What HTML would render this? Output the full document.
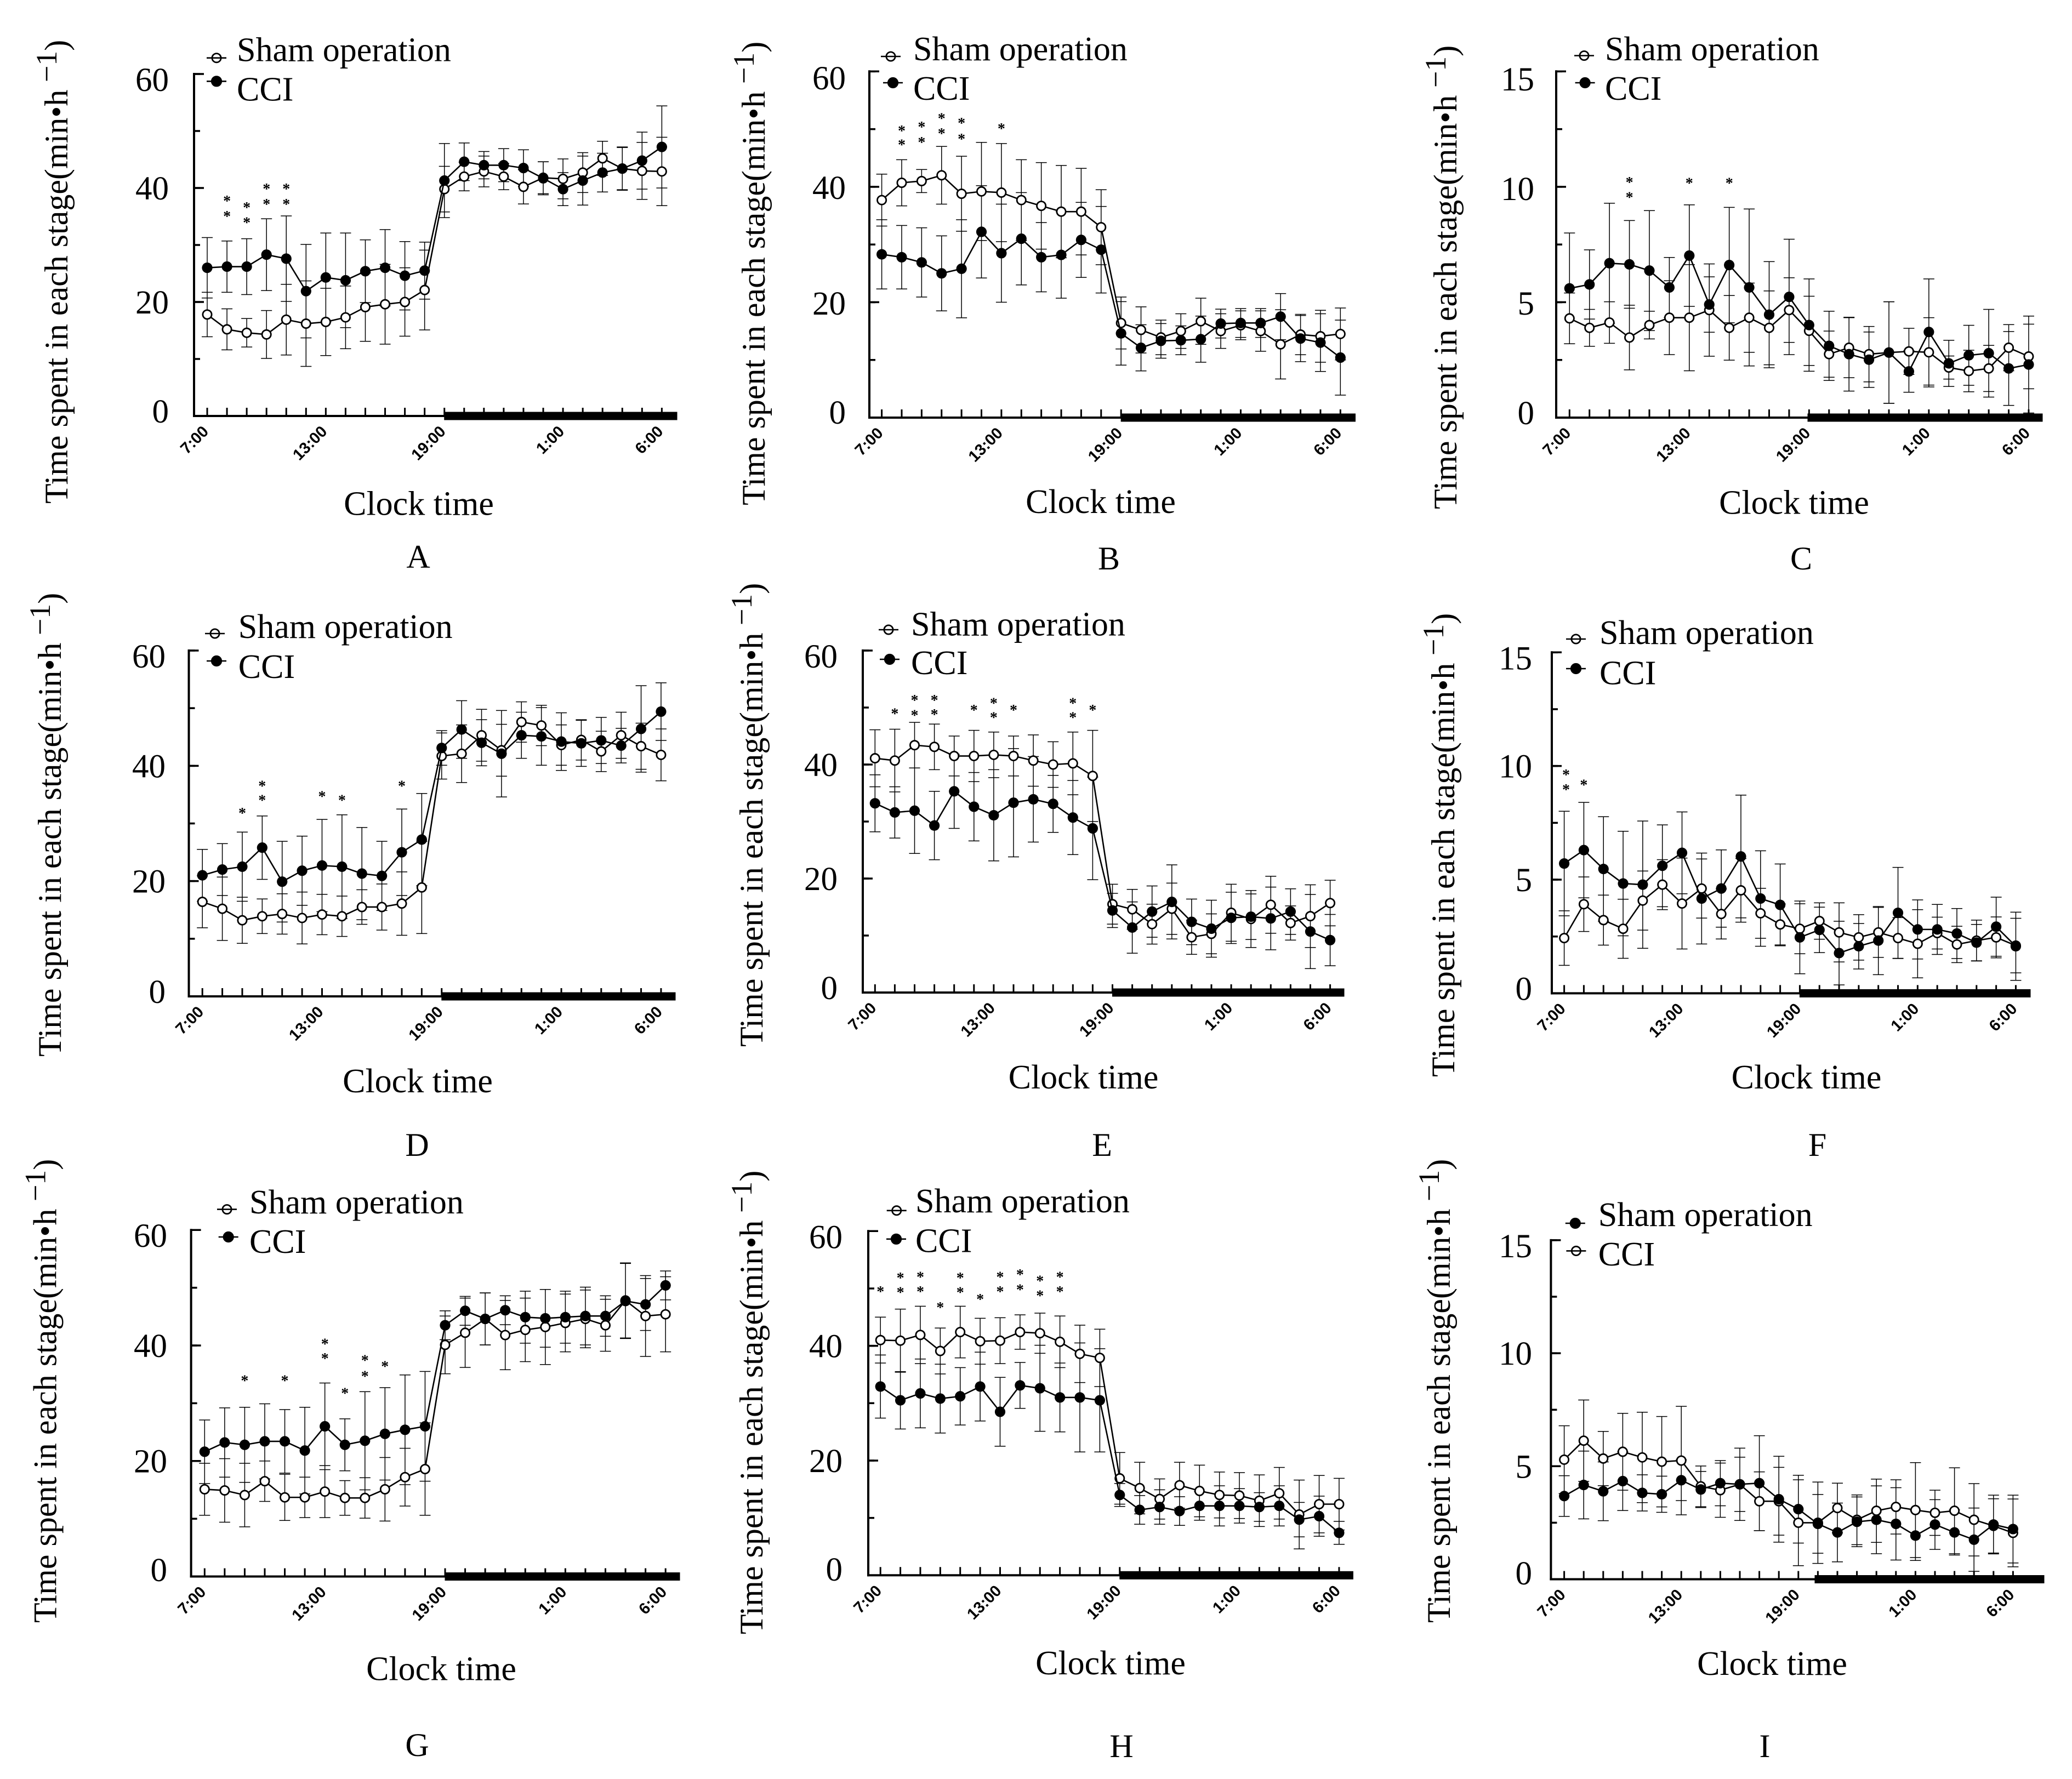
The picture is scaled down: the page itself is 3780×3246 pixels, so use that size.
<!DOCTYPE html>
<html><head><meta charset="utf-8">
<style>
html,body{margin:0;padding:0;background:#fff}
svg{display:block}
.ax{stroke:#000;stroke-width:4}
.d{vector-effect:non-scaling-stroke;fill:none;stroke:#000}
.eb{stroke-width:1.5}
.ln{stroke-width:2.6;stroke-linejoin:round}
.lg{stroke:#000;stroke-width:2.6}
.t{font-family:"Liberation Serif","Times New Roman",serif;fill:#000;stroke:none}
.yl{font-size:61px;text-anchor:end}
.tl{font-family:"Liberation Sans",Arial,sans-serif;font-weight:bold;font-size:29px;text-anchor:end;fill:#000;stroke:none}
.st{font-size:28px;font-weight:bold;text-anchor:middle}
.lt{font-size:62px}
.ct{font-size:62px;text-anchor:middle}
.pl{font-size:60px;text-anchor:middle}
.yt{font-size:60px}
</style></head><body>
<svg width="3780" height="3246" viewBox="0 0 3780 3246">
<rect x="0" y="0" width="3780" height="3246" fill="#fff"/>
<defs>
<marker id="cA" markerUnits="userSpaceOnUse" overflow="visible"><rect transform="scale(.027732,.096154)" x="-10" y="-.75" width="20" height="1.5"/></marker>
<marker id="fA" markerUnits="userSpaceOnUse" overflow="visible"><circle transform="scale(.027732,.096154)" r="9.6"/></marker>
<marker id="oA" markerUnits="userSpaceOnUse" overflow="visible"><circle transform="scale(.027732,.096154)" r="8.1" fill="#fff" stroke="#000" stroke-width="2.8"/></marker>
<marker id="cB" markerUnits="userSpaceOnUse" overflow="visible"><rect transform="scale(.027488,.094985)" x="-10" y="-.75" width="20" height="1.5"/></marker>
<marker id="fB" markerUnits="userSpaceOnUse" overflow="visible"><circle transform="scale(.027488,.094985)" r="9.6"/></marker>
<marker id="oB" markerUnits="userSpaceOnUse" overflow="visible"><circle transform="scale(.027488,.094985)" r="8.1" fill="#fff" stroke="#000" stroke-width="2.8"/></marker>
<marker id="cC" markerUnits="userSpaceOnUse" overflow="visible"><rect transform="scale(.027457,.023747)" x="-10" y="-.75" width="20" height="1.5"/></marker>
<marker id="fC" markerUnits="userSpaceOnUse" overflow="visible"><circle transform="scale(.027457,.023747)" r="9.6"/></marker>
<marker id="oC" markerUnits="userSpaceOnUse" overflow="visible"><circle transform="scale(.027457,.023747)" r="8.1" fill="#fff" stroke="#000" stroke-width="2.8"/></marker>
<marker id="cD" markerUnits="userSpaceOnUse" overflow="visible"><rect transform="scale(.027488,.095084)" x="-10" y="-.75" width="20" height="1.5"/></marker>
<marker id="fD" markerUnits="userSpaceOnUse" overflow="visible"><circle transform="scale(.027488,.095084)" r="9.6"/></marker>
<marker id="oD" markerUnits="userSpaceOnUse" overflow="visible"><circle transform="scale(.027488,.095084)" r="8.1" fill="#fff" stroke="#000" stroke-width="2.8"/></marker>
<marker id="cE" markerUnits="userSpaceOnUse" overflow="visible"><rect transform="scale(.027701,.096154)" x="-10" y="-.75" width="20" height="1.5"/></marker>
<marker id="fE" markerUnits="userSpaceOnUse" overflow="visible"><circle transform="scale(.027701,.096154)" r="9.6"/></marker>
<marker id="oE" markerUnits="userSpaceOnUse" overflow="visible"><circle transform="scale(.027701,.096154)" r="8.1" fill="#fff" stroke="#000" stroke-width="2.8"/></marker>
<marker id="cF" markerUnits="userSpaceOnUse" overflow="visible"><rect transform="scale(.027917,.024114)" x="-10" y="-.75" width="20" height="1.5"/></marker>
<marker id="fF" markerUnits="userSpaceOnUse" overflow="visible"><circle transform="scale(.027917,.024114)" r="9.6"/></marker>
<marker id="oF" markerUnits="userSpaceOnUse" overflow="visible"><circle transform="scale(.027917,.024114)" r="8.1" fill="#fff" stroke="#000" stroke-width="2.8"/></marker>
<marker id="cG" markerUnits="userSpaceOnUse" overflow="visible"><rect transform="scale(.027352,.094895)" x="-10" y="-.75" width="20" height="1.5"/></marker>
<marker id="fG" markerUnits="userSpaceOnUse" overflow="visible"><circle transform="scale(.027352,.094895)" r="9.6"/></marker>
<marker id="oG" markerUnits="userSpaceOnUse" overflow="visible"><circle transform="scale(.027352,.094895)" r="8.1" fill="#fff" stroke="#000" stroke-width="2.8"/></marker>
<marker id="cH" markerUnits="userSpaceOnUse" overflow="visible"><rect transform="scale(.027488,.095538)" x="-10" y="-.75" width="20" height="1.5"/></marker>
<marker id="fH" markerUnits="userSpaceOnUse" overflow="visible"><circle transform="scale(.027488,.095538)" r="9.6"/></marker>
<marker id="oH" markerUnits="userSpaceOnUse" overflow="visible"><circle transform="scale(.027488,.095538)" r="8.1" fill="#fff" stroke="#000" stroke-width="2.8"/></marker>
<marker id="cI" markerUnits="userSpaceOnUse" overflow="visible"><rect transform="scale(.02809,.024248)" x="-10" y="-.75" width="20" height="1.5"/></marker>
<marker id="fI" markerUnits="userSpaceOnUse" overflow="visible"><circle transform="scale(.02809,.024248)" r="9.6"/></marker>
<marker id="oI" markerUnits="userSpaceOnUse" overflow="visible"><circle transform="scale(.02809,.024248)" r="8.1" fill="#fff" stroke="#000" stroke-width="2.8"/></marker>
</defs>

<g stroke="#000">
<!-- ===== A ===== -->
<line class="ax" x1="354" y1="761" x2="354" y2="133"/>
<line class="ax" x1="352" y1="759" x2="1235" y2="759"/>
<rect x="810.7" y="752" width="424.3" height="14"/>
<line x1="376.5" y1="751.5" x2="1209.4" y2="751.5" stroke-width="15" stroke-dasharray="3 33.06"/>
<line x1="363" y1="760.75" x2="363" y2="132" stroke-width="18" stroke-dasharray="3.5 204.5"/>
<line x1="359.5" y1="760.75" x2="359.5" y2="132" stroke-width="11" stroke-dasharray="3.5 100.5"/>
<g transform="translate(378,759) scale(36.06,-10.4)">
<path class="d eb" marker-start="url(#cA)" marker-mid="url(#cA)" marker-end="url(#cA)" d="M0,13.9V21.7M1,11.6V18.8M2,12.1V17.1M3,10.1V18.5M4,10.7V23.1M5,8.7V23.7M6,10.6V22.4M7,11.8V22.8M8,13.1V25.1M9,12.6V26.6M10,14V26M11,15.1V29.1M12,35.8V43.8M13,39.5V44.5M14,40.2V45.6M15,39.7V44.3M16,37.2V43.2M17,39V44.6M18,38.1V45.1M19,39.2V46.2M20,42.2V48.2M21,39.7V47.1M22,38V48M23,36.9V48.9M0,20.7V31.3M1,21.7V30.7M2,21.3V31.1M3,22V34.6M4,20.1V35.1M5,13.7V30.1M6,16.5V32.1M7,15.5V32.1M8,19.9V30.9M9,19.3V32.7M10,18.6V30.6M11,20.5V30.5M12,34.8V47.8M13,41.3V47.9M14,41.6V46.4M15,41.1V46.9M16,40.3V46.7M17,38.8V44.6M18,36.9V42.7M19,37V45.6M20,39.3V46.1M21,39.6V47.2M22,39.8V49.8M23,40V54.4"/>
<polyline class="d ln" marker-start="url(#oA)" marker-mid="url(#oA)" marker-end="url(#oA)" points="0,17.8 1,15.2 2,14.6 3,14.3 4,16.9 5,16.2 6,16.5 7,17.3 8,19.1 9,19.6 10,20 11,22.1 12,39.8 13,42 14,42.9 15,42 16,40.2 17,41.8 18,41.6 19,42.7 20,45.2 21,43.4 22,43 23,42.9"/>
<polyline class="d ln" marker-start="url(#fA)" marker-mid="url(#fA)" marker-end="url(#fA)" points="0,26 1,26.2 2,26.2 3,28.3 4,27.6 5,21.9 6,24.3 7,23.8 8,25.4 9,26 10,24.6 11,25.5 12,41.3 13,44.6 14,44 15,44 16,43.5 17,41.7 18,39.8 19,41.3 20,42.7 21,43.4 22,44.8 23,47.2"/>
</g>
<line class="lg" x1="377" y1="105.7" x2="413" y2="105.7"/><circle cx="395" cy="105.7" r="8.1" fill="none" stroke-width="2.8"/>
<line class="lg" x1="377" y1="148.3" x2="413" y2="148.3"/><circle cx="395" cy="148.3" r="9.6"/>

<!-- ===== B ===== -->
<line class="ax" x1="1586" y1="764" x2="1586" y2="128.3"/>
<line class="ax" x1="1584" y1="762" x2="2472.5" y2="762"/>
<rect x="2045.2" y="755" width="427.3" height="14"/>
<line x1="1607.1" y1="754.5" x2="2447.3" y2="754.5" stroke-width="15" stroke-dasharray="3 33.38"/>
<line x1="1595" y1="763.75" x2="1595" y2="127" stroke-width="18" stroke-dasharray="3.5 207.07"/>
<line x1="1591.5" y1="763.75" x2="1591.5" y2="127" stroke-width="11" stroke-dasharray="3.5 101.78"/>
<g transform="translate(1608.6,762) scale(36.38,-10.528)">
<path class="d eb" marker-start="url(#cB)" marker-mid="url(#cB)" marker-end="url(#cB)" d="M0,33.2V42.2M1,36.7V44.7M2,39V43M3,37V47M4,32.3V45.3M5,30.7V47.7M6,30.5V47.5M7,30.7V44.7M8,29.2V44.2M9,27.7V43.7M10,28.2V43.2M11,26.5V39.5M12,11.9V20.9M13,11.2V19.2M14,10.9V16.9M15,12V18M16,12.7V20.7M17,12V18M18,13.5V18.5M19,11.5V18.5M20,6.7V18.7M21,10.9V17.9M22,9.6V18.6M23,10V19M0,22.3V34.3M1,22.3V33.3M2,20.9V32.9M3,18.5V31.5M4,17.3V34.3M5,24.2V40.2M6,20V37M7,23V39M8,21.8V33.8M9,20.7V35.7M10,24.3V37.3M11,21.6V36.6M12,9.1V20.1M13,8.1V16.1M14,10.3V16.3M15,10.9V15.9M16,9.6V17.6M17,13.8V18.8M18,13.9V18.9M19,13.9V18.9M20,13.5V21.5M21,9.7V17.7M22,8V18M23,3.9V16.9"/>
<polyline class="d ln" marker-start="url(#oB)" marker-mid="url(#oB)" marker-end="url(#oB)" points="0,37.7 1,40.7 2,41 3,42 4,38.8 5,39.2 6,39 7,37.7 8,36.7 9,35.7 10,35.7 11,33 12,16.4 13,15.2 14,13.9 15,15 16,16.7 17,15 18,16 19,15 20,12.7 21,14.4 22,14.1 23,14.5"/>
<polyline class="d ln" marker-start="url(#fB)" marker-mid="url(#fB)" marker-end="url(#fB)" points="0,28.3 1,27.8 2,26.9 3,25 4,25.8 5,32.2 6,28.5 7,31 8,27.8 9,28.2 10,30.8 11,29.1 12,14.6 13,12.1 14,13.3 15,13.4 16,13.6 17,16.3 18,16.4 19,16.4 20,17.5 21,13.7 22,13 23,10.4"/>
</g>
<line class="lg" x1="1607" y1="103" x2="1643" y2="103"/><circle cx="1625" cy="103" r="8.1" fill="none" stroke-width="2.8"/>
<line class="lg" x1="1611" y1="151" x2="1647" y2="151"/><circle cx="1629" cy="151" r="9.6"/>

<!-- ===== C ===== -->
<line class="ax" x1="2839" y1="764" x2="2839" y2="128.3"/>
<line class="ax" x1="2837" y1="762" x2="3726" y2="762"/>
<rect x="3298" y="755" width="428" height="14"/>
<line x1="2861.8" y1="754.5" x2="3703" y2="754.5" stroke-width="15" stroke-dasharray="3 33.42"/>
<line x1="2848" y1="763.75" x2="2848" y2="127" stroke-width="18" stroke-dasharray="3.5 207.07"/>
<line x1="2844.5" y1="763.75" x2="2844.5" y2="127" stroke-width="11" stroke-dasharray="3.5 101.78"/>
<g transform="translate(2863.3,762) scale(36.42,-42.11)">
<path class="d eb" marker-start="url(#cC)" marker-mid="url(#cC)" marker-end="url(#cC)" d="M0,3.2V5.4M1,3.09V4.69M2,3.22V5.02M3,2.07V4.87M4,3.41V4.61M5,2.73V5.93M6,2.03V6.63M7,2.66V6.66M8,2.49V5.29M9,2.83V5.83M10,2.29V5.49M11,3.26V6.06M12,2.26V5.26M13,1.75V3.75M14,1.73V4.33M15,1.55V3.95M16,.62V5.02M17,1.87V3.87M18,1.33V4.33M19,1.67V2.67M20,1.12V2.92M21,1.13V3.13M22,2.03V4.03M23,1.25V4.05M0,3.2V8M1,4.27V7.27M2,4.09V9.29M3,4.74V8.54M4,3.77V8.97M5,4.34V6.94M6,4.82V9.22M7,3.7V6.1M8,4.11V9.11M9,2.24V9.04M10,2.16V6.76M11,2.73V7.73M12,2.01V6.01M13,1.61V4.61M14,1.15V4.35M15,1.31V3.71M16,.62V5.02M17,1.1V2.9M18,1.41V6.01M19,1.35V3.35M20,1.4V4M21,.89V4.69M22,.53V3.73M23,.2V4.4"/>
<polyline class="d ln" marker-start="url(#oC)" marker-mid="url(#oC)" marker-end="url(#oC)" points="0,4.3 1,3.89 2,4.12 3,3.47 4,4.01 5,4.33 6,4.33 7,4.66 8,3.89 9,4.33 10,3.89 11,4.66 12,3.76 13,2.75 14,3.03 15,2.75 16,2.82 17,2.87 18,2.83 19,2.17 20,2.02 21,2.13 22,3.03 23,2.65"/>
<polyline class="d ln" marker-start="url(#fC)" marker-mid="url(#fC)" marker-end="url(#fC)" points="0,5.6 1,5.77 2,6.69 3,6.64 4,6.37 5,5.64 6,7.02 7,4.9 8,6.61 9,5.64 10,4.46 11,5.23 12,4.01 13,3.11 14,2.75 15,2.51 16,2.82 17,2 18,3.71 19,2.35 20,2.7 21,2.79 22,2.13 23,2.3"/>
</g>
<line class="lg" x1="2872" y1="101.5" x2="2908" y2="101.5"/><circle cx="2890" cy="101.5" r="8.1" fill="none" stroke-width="2.8"/>
<line class="lg" x1="2873.6" y1="151" x2="2909.6" y2="151"/><circle cx="2891.6" cy="151" r="9.6"/>

<!-- ===== D ===== -->
<line class="ax" x1="344.5" y1="1820" x2="344.5" y2="1185"/>
<line class="ax" x1="342.5" y1="1818" x2="1232" y2="1818"/>
<rect x="805.8" y="1811" width="426.2" height="14"/>
<line x1="367.7" y1="1810.5" x2="1207.9" y2="1810.5" stroke-width="15" stroke-dasharray="3 33.38"/>
<line x1="353.5" y1="1819.75" x2="353.5" y2="1184" stroke-width="18" stroke-dasharray="3.5 206.83"/>
<line x1="350" y1="1819.75" x2="350" y2="1184" stroke-width="11" stroke-dasharray="3.5 101.67"/>
<g transform="translate(369.2,1818) scale(36.38,-10.517)">
<path class="d eb" marker-start="url(#cD)" marker-mid="url(#cD)" marker-end="url(#cD)" d="M0,11.9V20.9M1,9.7V20.7M2,9.2V17.2M3,10.9V16.9M4,10.8V17.8M5,9.1V18.1M6,10.7V17.7M7,10.4V17.4M8,12.5V18.5M9,11.5V19.5M10,10.6V21.6M11,10.9V26.9M12,37.7V45.7M13,37.1V47.1M14,40.8V49.8M15,38.2V47.2M16,44.1V51.1M17,43.5V50.5M18,40.1V47.1M19,41V48M20,39V46M21,41.3V49.3M22,39.4V47.4M23,37.4V46.4M0,16.5V25.5M1,17.5V26.5M2,16.5V28.5M3,20.3V31.3M4,12.9V26.9M5,15.8V27.8M6,14.7V30.7M7,13.5V31.5M8,13.3V29.3M9,14.9V26.9M10,17.5V32.5M11,19.2V35.2M12,40.1V46.1M13,41.3V51.3M14,40V48M15,34.6V49.6M16,41.3V49.3M17,40.1V50.1M18,39.2V49.2M19,39.9V47.9M20,40.4V48.4M21,40.5V46.5M22,38.9V53.9M23,44.4V54.4"/>
<polyline class="d ln" marker-start="url(#oD)" marker-mid="url(#oD)" marker-end="url(#oD)" points="0,16.4 1,15.2 2,13.2 3,13.9 4,14.3 5,13.6 6,14.2 7,13.9 8,15.5 9,15.5 10,16.1 11,18.9 12,41.7 13,42.1 14,45.3 15,42.7 16,47.6 17,47 18,43.6 19,44.5 20,42.5 21,45.3 22,43.4 23,41.9"/>
<polyline class="d ln" marker-start="url(#fD)" marker-mid="url(#fD)" marker-end="url(#fD)" points="0,21 1,22 2,22.5 3,25.8 4,19.9 5,21.8 6,22.7 7,22.5 8,21.3 9,20.9 10,25 11,27.2 12,43.1 13,46.3 14,44 15,42.1 16,45.3 17,45.1 18,44.2 19,43.9 20,44.4 21,43.5 22,46.4 23,49.4"/>
</g>
<line class="lg" x1="374" y1="1156" x2="410" y2="1156"/><circle cx="392" cy="1156" r="8.1" fill="none" stroke-width="2.8"/>
<line class="lg" x1="377" y1="1206" x2="413" y2="1206"/><circle cx="395" cy="1206" r="9.6"/>

<!-- ===== E ===== -->
<line class="ax" x1="1574" y1="1813" x2="1574" y2="1185"/>
<line class="ax" x1="1572" y1="1811" x2="2452" y2="1811"/>
<rect x="2029.5" y="1804" width="422.5" height="14"/>
<line x1="1594.8" y1="1803.5" x2="2428.6" y2="1803.5" stroke-width="15" stroke-dasharray="3 33.1"/>
<line x1="1583" y1="1812.75" x2="1583" y2="1184" stroke-width="18" stroke-dasharray="3.5 204.5"/>
<line x1="1579.5" y1="1812.75" x2="1579.5" y2="1184" stroke-width="11" stroke-dasharray="3.5 100.5"/>
<g transform="translate(1596.3,1811) scale(36.1,-10.4)">
<path class="d eb" marker-start="url(#cE)" marker-mid="url(#cE)" marker-end="url(#cE)" d="M0,36.1V46.1M1,35.2V46.2M2,39.4V47.4M3,39.1V47.1M4,38V45M5,37V46M6,37.7V45.7M7,38V45M8,36.2V45.2M9,36V44M10,34.7V45.7M11,30V46M12,12V19M13,11.1V18.1M14,8.5V15.5M15,10.2V19.2M16,6.7V12.7M17,6.8V13.8M18,9V19M19,7.9V17.9M20,10.4V20.4M21,9.2V15.2M22,7.9V18.9M23,11.7V19.7M0,28.2V38.2M1,27.1V36.1M2,24.4V39.4M3,23.3V35.3M4,28.8V41.8M5,26.6V38.6M6,23.1V39.1M7,23.8V42.8M8,26.4V41.4M9,28.1V38.1M10,24.2V37.2M11,19.8V37.8M12,11.4V17.4M13,6.9V15.9M14,9.7V18.7M15,9.4V22.4M16,8.4V16.4M17,6.2V16.2M18,8.6V17.6M19,9.3V17.3M20,7.5V18.5M21,10.2V18.2M22,4.2V17.2M23,4.7V13.7"/>
<polyline class="d ln" marker-start="url(#oE)" marker-mid="url(#oE)" marker-end="url(#oE)" points="0,41.1 1,40.7 2,43.4 3,43.1 4,41.5 5,41.5 6,41.7 7,41.5 8,40.7 9,40 10,40.2 11,38 12,15.5 13,14.6 14,12 15,14.7 16,9.7 17,10.3 18,14 19,12.9 20,15.4 21,12.2 22,13.4 23,15.7"/>
<polyline class="d ln" marker-start="url(#fE)" marker-mid="url(#fE)" marker-end="url(#fE)" points="0,33.2 1,31.6 2,31.9 3,29.3 4,35.3 5,32.6 6,31.1 7,33.3 8,33.9 9,33.1 10,30.7 11,28.8 12,14.4 13,11.4 14,14.2 15,15.9 16,12.4 17,11.2 18,13.1 19,13.3 20,13 21,14.2 22,10.7 23,9.2"/>
</g>
<line class="lg" x1="1603" y1="1149" x2="1639" y2="1149"/><circle cx="1621" cy="1149" r="8.1" fill="none" stroke-width="2.8"/>
<line class="lg" x1="1605" y1="1203" x2="1641" y2="1203"/><circle cx="1623" cy="1203" r="9.6"/>

<!-- ===== F ===== -->
<line class="ax" x1="2831" y1="1814.4" x2="2831" y2="1188.3"/>
<line class="ax" x1="2829" y1="1812.4" x2="3704" y2="1812.4"/>
<rect x="3283.4" y="1805.4" width="420.6" height="14"/>
<line x1="2852.1" y1="1804.9" x2="3679.5" y2="1804.9" stroke-width="15" stroke-dasharray="3 32.82"/>
<line x1="2840" y1="1814.15" x2="2840" y2="1187" stroke-width="18" stroke-dasharray="3.5 203.87"/>
<line x1="2836.5" y1="1814.15" x2="2836.5" y2="1187" stroke-width="11" stroke-dasharray="3.5 100.18"/>
<g transform="translate(2853.6,1812.4) scale(35.82,-41.47)">
<path class="d eb" marker-start="url(#cF)" marker-mid="url(#cF)" marker-end="url(#cF)" d="M0,1.23V3.63M1,2.72V5.12M2,2.12V4.32M3,1.54V4.14M4,2.78V5.38M5,3.68V5.88M6,1.95V5.95M7,3.31V5.91M8,2.39V4.59M9,3.13V5.93M10,2.42V4.62M11,2.13V3.93M12,1.74V3.94M13,2.38V3.98M14,1.38V3.98M15,1.46V3.46M16,1.58V3.78M17,1.53V3.33M18,.68V3.68M19,1.95V3.35M20,1.35V2.95M21,1.42V3.22M22,1.56V3.36M23,.9V3.3M0,3.41V8.01M1,4.2V8.4M2,3.17V7.77M3,2.53V7.13M4,1.98V7.58M5,3.81V7.41M6,4.38V7.98M7,2.17V6.17M8,2.91V6.31M9,3.32V8.72M10,2.07V6.27M11,2.09V5.69M12,.86V4.06M13,1.79V3.79M14,.37V3.17M15,1.07V3.07M16,.82V3.82M17,1.54V5.54M18,1.51V4.11M19,1.71V3.91M20,1.53V3.73M21,1.43V3.03M22,1.63V4.23M23,.57V3.57"/>
<polyline class="d ln" marker-start="url(#oF)" marker-mid="url(#oF)" marker-end="url(#oF)" points="0,2.43 1,3.92 2,3.22 3,2.84 4,4.08 5,4.78 6,3.95 7,4.61 8,3.49 9,4.53 10,3.52 11,3.03 12,2.84 13,3.18 14,2.68 15,2.46 16,2.68 17,2.43 18,2.18 19,2.65 20,2.15 21,2.32 22,2.46 23,2.1"/>
<polyline class="d ln" marker-start="url(#fF)" marker-mid="url(#fF)" marker-end="url(#fF)" points="0,5.71 1,6.3 2,5.47 3,4.83 4,4.78 5,5.61 6,6.18 7,4.17 8,4.61 9,6.02 10,4.17 11,3.89 12,2.46 13,2.79 14,1.77 15,2.07 16,2.32 17,3.54 18,2.81 19,2.81 20,2.63 21,2.23 22,2.93 23,2.07"/>
</g>
<line class="lg" x1="2857" y1="1166" x2="2893" y2="1166"/><circle cx="2875" cy="1166" r="8.1" fill="none" stroke-width="2.8"/>
<line class="lg" x1="2857" y1="1220" x2="2893" y2="1220"/><circle cx="2875" cy="1220" r="9.6"/>

<!-- ===== G ===== -->
<line class="ax" x1="348.6" y1="2878.5" x2="348.6" y2="2242.2"/>
<line class="ax" x1="346.6" y1="2876.5" x2="1240" y2="2876.5"/>
<rect x="812" y="2869.5" width="428" height="14"/>
<line x1="371.8" y1="2869" x2="1216.2" y2="2869" stroke-width="15" stroke-dasharray="3 33.56"/>
<line x1="357.6" y1="2878.25" x2="357.6" y2="2241" stroke-width="18" stroke-dasharray="3.5 207.27"/>
<line x1="354.1" y1="2878.25" x2="354.1" y2="2241" stroke-width="11" stroke-dasharray="3.5 101.88"/>
<g transform="translate(373.3,2876.5) scale(36.56,-10.538)">
<path class="d eb" marker-start="url(#cG)" marker-mid="url(#cG)" marker-end="url(#cG)" d="M0,10.6V19.6M1,9.4V20.4M2,8.6V19.6M3,13V20M4,9.7V17.7M5,10.2V17.2M6,10.2V19.2M7,10.6V16.6M8,10.1V17.1M9,9.6V20.6M10,12.2V22.2M11,10.6V26.6M12,35.1V45.1M13,36.2V48.2M14,40.1V49.1M15,35.8V47.8M16,37.2V48.2M17,36.7V49.7M18,38.9V48.9M19,39.6V49.6M20,39V48M21,41.3V54.3M22,38.1V52.1M23,38.9V51.9M0,16.1V27.1M1,17.2V29.2M2,16.3V29.3M3,16.9V29.9M4,17.9V28.9M5,14.3V29.3M6,18.5V33.5M7,18.3V27.3M8,15V32M9,16.7V32.7M10,15.9V34.9M11,16.5V35.5M12,41V46M13,43.5V48.5M14,40.1V49.1M15,43.6V48.6M16,40.4V49.4M17,39.7V49.7M18,40.4V49.4M19,40.1V50.1M20,41.6V48.6M21,41.2V54.2M22,42.6V51.6M23,47.9V52.9"/>
<polyline class="d ln" marker-start="url(#oG)" marker-mid="url(#oG)" marker-end="url(#oG)" points="0,15.1 1,14.9 2,14.1 3,16.5 4,13.7 5,13.7 6,14.7 7,13.6 8,13.6 9,15.1 10,17.2 11,18.6 12,40.1 13,42.2 14,44.6 15,41.8 16,42.7 17,43.2 18,43.9 19,44.6 20,43.5 21,47.8 22,45.1 23,45.4"/>
<polyline class="d ln" marker-start="url(#fG)" marker-mid="url(#fG)" marker-end="url(#fG)" points="0,21.6 1,23.2 2,22.8 3,23.4 4,23.4 5,21.8 6,26 7,22.8 8,23.5 9,24.7 10,25.4 11,26 12,43.5 13,46 14,44.6 15,46.1 16,44.9 17,44.7 18,44.9 19,45.1 20,45.1 21,47.7 22,47.1 23,50.4"/>
</g>
<line class="lg" x1="396" y1="2206.6" x2="432" y2="2206.6"/><circle cx="414" cy="2206.6" r="8.1" fill="none" stroke-width="2.8"/>
<line class="lg" x1="398.7" y1="2257" x2="434.7" y2="2257"/><circle cx="416.7" cy="2257" r="9.6"/>

<!-- ===== H ===== -->
<line class="ax" x1="1584" y1="2876.3" x2="1584" y2="2244.3"/>
<line class="ax" x1="1582" y1="2874.3" x2="2468.4" y2="2874.3"/>
<rect x="2042.8" y="2867.3" width="425.6" height="14"/>
<line x1="1604.7" y1="2866.8" x2="2444.9" y2="2866.8" stroke-width="15" stroke-dasharray="3 33.38"/>
<line x1="1593" y1="2876.05" x2="1593" y2="2243" stroke-width="18" stroke-dasharray="3.5 205.83"/>
<line x1="1589.5" y1="2876.05" x2="1589.5" y2="2243" stroke-width="11" stroke-dasharray="3.5 101.17"/>
<g transform="translate(1606.2,2874.3) scale(36.38,-10.467)">
<path class="d eb" marker-start="url(#cH)" marker-mid="url(#cH)" marker-end="url(#cH)" d="M0,37V45M1,35.4V46.4M2,36.9V46.9M3,35.1V43.1M4,37.9V46.9M5,36.8V44.8M6,36.9V44.9M7,39.4V45.4M8,38.7V45.7M9,36.2V45.2M10,33.6V43.6M11,32.9V42.9M12,12.4V21.4M13,10.7V19.7M14,9.8V16.8M15,11.7V19.7M16,10.2V19.2M17,10V18M18,9.9V17.9M19,8.5V17.5M20,9.8V18.8M21,4.6V16.6M22,7.4V17.4M23,7.9V16.9M0,27.4V38.4M1,25.5V35.5M2,25.7V37.7M3,24.8V36.8M4,26.2V36.2M5,26.9V38.9M6,22.5V34.5M7,29.1V37.1M8,25.1V40.1M9,25V37M10,21.5V40.5M11,21.5V39.5M12,12V16M13,8.9V13.9M14,8.9V14.9M15,8.7V13.7M16,9.6V14.6M17,8.6V15.6M18,9.1V15.1M19,9.4V14.4M20,8.6V15.6M21,6.7V12.7M22,6.8V13.8M23,5.4V9.4"/>
<polyline class="d ln" marker-start="url(#oH)" marker-mid="url(#oH)" marker-end="url(#oH)" points="0,41 1,40.9 2,41.9 3,39.1 4,42.4 5,40.8 6,40.9 7,42.4 8,42.2 9,40.7 10,38.6 11,37.9 12,16.9 13,15.2 14,13.3 15,15.7 16,14.7 17,14 18,13.9 19,13 20,14.3 21,10.6 22,12.4 23,12.4"/>
<polyline class="d ln" marker-start="url(#fH)" marker-mid="url(#fH)" marker-end="url(#fH)" points="0,32.9 1,30.5 2,31.7 3,30.8 4,31.2 5,32.9 6,28.5 7,33.1 8,32.6 9,31 10,31 11,30.5 12,14 13,11.4 14,11.9 15,11.2 16,12.1 17,12.1 18,12.1 19,11.9 20,12.1 21,9.7 22,10.3 23,7.4"/>
</g>
<line class="lg" x1="1617.7" y1="2208.8" x2="1653.7" y2="2208.8"/><circle cx="1635.7" cy="2208.8" r="8.1" fill="none" stroke-width="2.8"/>
<line class="lg" x1="1617" y1="2260.8" x2="1653" y2="2260.8"/><circle cx="1635" cy="2260.8" r="9.6"/>

<!-- ===== I ===== -->
<line class="ax" x1="2829.4" y1="2883.5" x2="2829.4" y2="2260.9"/>
<line class="ax" x1="2827.4" y1="2881.5" x2="3729" y2="2881.5"/>
<rect x="3311" y="2874.5" width="418" height="14"/>
<line x1="2852.1" y1="2874" x2="3674.4" y2="2874" stroke-width="15" stroke-dasharray="3 32.6"/>
<line x1="2838.4" y1="2883.25" x2="2838.4" y2="2259.5" stroke-width="18" stroke-dasharray="3.5 202.7"/>
<line x1="2834.9" y1="2883.25" x2="2834.9" y2="2259.5" stroke-width="11" stroke-dasharray="3.5 99.6"/>
<g transform="translate(2853.6,2881.5) scale(35.6,-41.24)">
<path class="d eb" marker-start="url(#cI)" marker-mid="url(#cI)" marker-end="url(#cI)" d="M0,3.79V6.79M1,4.33V7.93M2,4.14V6.54M3,3.94V7.34M4,3.39V7.39M5,3.2V7.2M6,2.85V7.65M7,3.21V5.01M8,2.74V5.14M9,2.6V5.8M10,2.15V4.75M11,1.95V4.95M12,.6V4.4M13,.7V4.3M14,2.05V4.25M15,1.53V3.73M16,1.63V4.43M17,2V4.4M18,.96V5.16M19,1.94V3.94M20,1.13V4.93M21,1.03V4.23M22,1.16V3.56M23,.55V3.55M0,2.78V4.58M1,2.67V5.67M2,2.59V5.19M3,3.04V5.64M4,3.02V4.62M5,2.96V4.56M6,3.48V5.28M7,3.17V4.77M8,3.25V5.25M9,3V5.4M10,2.15V6.35M11,1.64V5.44M12,1.6V4.6M13,1.15V3.75M14,.77V3.37M15,1.44V3.64M16,1.13V4.13M17,.85V4.05M18,.83V3.03M19,1.32V3.52M20,1.07V3.07M21,.35V3.15M22,1.12V3.72M23,.72V3.72"/>
<polyline class="d ln" marker-start="url(#oI)" marker-mid="url(#oI)" marker-end="url(#oI)" points="0,5.29 1,6.13 2,5.34 3,5.64 4,5.39 5,5.2 6,5.25 7,4.11 8,3.94 9,4.2 10,3.45 11,3.45 12,2.5 13,2.5 14,3.15 15,2.63 16,3.03 17,3.2 18,3.06 19,2.94 20,3.03 21,2.63 22,2.36 23,2.05"/>
<polyline class="d ln" marker-start="url(#fI)" marker-mid="url(#fI)" marker-end="url(#fI)" points="0,3.68 1,4.17 2,3.89 3,4.34 4,3.82 5,3.76 6,4.38 7,3.97 8,4.25 9,4.2 10,4.25 11,3.54 12,3.1 13,2.45 14,2.07 15,2.54 16,2.63 17,2.45 18,1.93 19,2.42 20,2.07 21,1.75 22,2.42 23,2.22"/>
</g>
<line class="lg" x1="2855.8" y1="2232" x2="2891.8" y2="2232"/><circle cx="2873.8" cy="2232" r="9.6"/>
<line class="lg" x1="2857.4" y1="2282.4" x2="2893.4" y2="2282.4"/><circle cx="2875.4" cy="2282.4" r="8.1" fill="none" stroke-width="2.8"/>
</g>

<!-- ================= TEXT ================= -->
<g class="t">
<text class="t lt" x="432" y="111.7">Sham operation</text><text class="t lt" x="432" y="183.3">CCI</text>
<text class="t lt" x="1666" y="110">Sham operation</text><text class="t lt" x="1666" y="182">CCI</text>
<text class="t lt" x="2928" y="110">Sham operation</text><text class="t lt" x="2928" y="182">CCI</text>
<text class="t lt" x="434.8" y="1164">Sham operation</text><text class="t lt" x="434.8" y="1237">CCI</text>
<text class="t lt" x="1662" y="1159.5">Sham operation</text><text class="t lt" x="1662" y="1230">CCI</text>
<text class="t lt" x="2918" y="1175">Sham operation</text><text class="t lt" x="2918" y="1248.6">CCI</text>
<text class="t lt" x="455" y="2213.8">Sham operation</text><text class="t lt" x="455" y="2286">CCI</text>
<text class="t lt" x="1670" y="2212">Sham operation</text><text class="t lt" x="1670" y="2284.6">CCI</text>
<text class="t lt" x="2915.8" y="2237">Sham operation</text><text class="t lt" x="2915.8" y="2309">CCI</text>

<text class="t yl" x="308" y="771">0</text><text class="t yl" x="308" y="572">20</text><text class="t yl" x="308" y="364">40</text><text class="t yl" x="308" y="166">60</text>
<text class="t yl" x="1543" y="773">0</text><text class="t yl" x="1543" y="574">20</text><text class="t yl" x="1543" y="363">40</text><text class="t yl" x="1543" y="163">60</text>
<text class="t yl" x="2799" y="774">0</text><text class="t yl" x="2799" y="574">5</text><text class="t yl" x="2799" y="365">10</text><text class="t yl" x="2799" y="165">15</text>
<text class="t yl" x="302" y="1830">0</text><text class="t yl" x="302" y="1628.7">20</text><text class="t yl" x="302" y="1418.3">40</text><text class="t yl" x="302" y="1218">60</text>
<text class="t yl" x="1528" y="1823">0</text><text class="t yl" x="1528" y="1624">20</text><text class="t yl" x="1528" y="1416">40</text><text class="t yl" x="1528" y="1218">60</text>
<text class="t yl" x="2795" y="1824.4">0</text><text class="t yl" x="2795" y="1626">5</text><text class="t yl" x="2795" y="1418.7">10</text><text class="t yl" x="2795" y="1221.3">15</text>
<text class="t yl" x="305" y="2885">0</text><text class="t yl" x="305" y="2686.7">20</text><text class="t yl" x="305" y="2475.9">40</text><text class="t yl" x="305" y="2275.2">60</text>
<text class="t yl" x="1537" y="2884">0</text><text class="t yl" x="1537" y="2686">20</text><text class="t yl" x="1537" y="2476.6">40</text><text class="t yl" x="1537" y="2277.3">60</text>
<text class="t yl" x="2795" y="2891">0</text><text class="t yl" x="2795" y="2696.3">5</text><text class="t yl" x="2795" y="2490.1">10</text><text class="t yl" x="2795" y="2293.9">15</text>

<text class="tl" transform="translate(382,789) rotate(-45)">7:00</text>
<text class="tl" transform="translate(598.4,789) rotate(-45)">13:00</text>
<text class="tl" transform="translate(814.7,789) rotate(-45)">19:00</text>
<text class="tl" transform="translate(1031.1,789) rotate(-45)">1:00</text>
<text class="tl" transform="translate(1211.4,789) rotate(-45)">6:00</text>

<text class="tl" transform="translate(1612.6,792) rotate(-45)">7:00</text>
<text class="tl" transform="translate(1830.9,792) rotate(-45)">13:00</text>
<text class="tl" transform="translate(2049.2,792) rotate(-45)">19:00</text>
<text class="tl" transform="translate(2267.4,792) rotate(-45)">1:00</text>
<text class="tl" transform="translate(2449.3,792) rotate(-45)">6:00</text>

<text class="tl" transform="translate(2867.3,792) rotate(-45)">7:00</text>
<text class="tl" transform="translate(3085.8,792) rotate(-45)">13:00</text>
<text class="tl" transform="translate(3304.3,792) rotate(-45)">19:00</text>
<text class="tl" transform="translate(3522.9,792) rotate(-45)">1:00</text>
<text class="tl" transform="translate(3705,792) rotate(-45)">6:00</text>

<text class="tl" transform="translate(373.2,1848) rotate(-45)">7:00</text>
<text class="tl" transform="translate(591.5,1848) rotate(-45)">13:00</text>
<text class="tl" transform="translate(809.8,1848) rotate(-45)">19:00</text>
<text class="tl" transform="translate(1028,1848) rotate(-45)">1:00</text>
<text class="tl" transform="translate(1209.9,1848) rotate(-45)">6:00</text>

<text class="tl" transform="translate(1600.3,1841) rotate(-45)">7:00</text>
<text class="tl" transform="translate(1816.9,1841) rotate(-45)">13:00</text>
<text class="tl" transform="translate(2033.5,1841) rotate(-45)">19:00</text>
<text class="tl" transform="translate(2250.1,1841) rotate(-45)">1:00</text>
<text class="tl" transform="translate(2430.6,1841) rotate(-45)">6:00</text>

<text class="tl" transform="translate(2857.6,1842.4) rotate(-45)">7:00</text>
<text class="tl" transform="translate(3072.5,1842.4) rotate(-45)">13:00</text>
<text class="tl" transform="translate(3287.4,1842.4) rotate(-45)">19:00</text>
<text class="tl" transform="translate(3502.4,1842.4) rotate(-45)">1:00</text>
<text class="tl" transform="translate(3681.5,1842.4) rotate(-45)">6:00</text>

<text class="tl" transform="translate(377.3,2906.5) rotate(-45)">7:00</text>
<text class="tl" transform="translate(596.7,2906.5) rotate(-45)">13:00</text>
<text class="tl" transform="translate(816,2906.5) rotate(-45)">19:00</text>
<text class="tl" transform="translate(1035.4,2906.5) rotate(-45)">1:00</text>
<text class="tl" transform="translate(1218.2,2906.5) rotate(-45)">6:00</text>

<text class="tl" transform="translate(1610.2,2904.3) rotate(-45)">7:00</text>
<text class="tl" transform="translate(1828.5,2904.3) rotate(-45)">13:00</text>
<text class="tl" transform="translate(2046.8,2904.3) rotate(-45)">19:00</text>
<text class="tl" transform="translate(2265,2904.3) rotate(-45)">1:00</text>
<text class="tl" transform="translate(2446.9,2904.3) rotate(-45)">6:00</text>

<text class="tl" transform="translate(2857.6,2911.5) rotate(-45)">7:00</text>
<text class="tl" transform="translate(3071.2,2911.5) rotate(-45)">13:00</text>
<text class="tl" transform="translate(3284.8,2911.5) rotate(-45)">19:00</text>
<text class="tl" transform="translate(3498.4,2911.5) rotate(-45)">1:00</text>
<text class="tl" transform="translate(3676.4,2911.5) rotate(-45)">6:00</text>

<text class="t yt" transform="translate(123,919) rotate(-90)">Time spent in each stage(min•h<tspan font-size="54" dy="-20"> −1</tspan><tspan dy="20">)</tspan></text>
<text class="t yt" transform="translate(1395,922) rotate(-90)">Time spent in each stage(min•h<tspan font-size="54" dy="-20"> −1</tspan><tspan dy="20">)</tspan></text>
<text class="t yt" transform="translate(2657,929) rotate(-90)">Time spent in each stage(min•h<tspan font-size="54" dy="-20"> −1</tspan><tspan dy="20">)</tspan></text>
<text class="t yt" transform="translate(111,1928) rotate(-90)">Time spent in each stage(min•h<tspan font-size="54" dy="-20"> −1</tspan><tspan dy="20">)</tspan></text>
<text class="t yt" transform="translate(1391,1910) rotate(-90)">Time spent in each stage(min•h<tspan font-size="54" dy="-20"> −1</tspan><tspan dy="20">)</tspan></text>
<text class="t yt" transform="translate(2653,1965) rotate(-90)">Time spent in each stage(min•h<tspan font-size="54" dy="-20"> −1</tspan><tspan dy="20">)</tspan></text>
<text class="t yt" transform="translate(102.5,2961) rotate(-90)">Time spent in each stage(min•h<tspan font-size="54" dy="-20"> −1</tspan><tspan dy="20">)</tspan></text>
<text class="t yt" transform="translate(1391,2982) rotate(-90)">Time spent in each stage(min•h<tspan font-size="54" dy="-20"> −1</tspan><tspan dy="20">)</tspan></text>
<text class="t yt" transform="translate(2645,2961) rotate(-90)">Time spent in each stage(min•h<tspan font-size="54" dy="-20"> −1</tspan><tspan dy="20">)</tspan></text>

<text class="t ct" x="764" y="939.6">Clock time</text>
<text class="t ct" x="2008" y="936">Clock time</text>
<text class="t ct" x="3273" y="937.6">Clock time</text>
<text class="t ct" x="762" y="1993">Clock time</text>
<text class="t ct" x="1976.5" y="1986">Clock time</text>
<text class="t ct" x="3295.5" y="1986">Clock time</text>
<text class="t ct" x="805" y="3065.6">Clock time</text>
<text class="t ct" x="2026" y="3054.8">Clock time</text>
<text class="t ct" x="3233" y="3056">Clock time</text>

<text class="t pl" x="763" y="1036">A</text>
<text class="t pl" x="2023" y="1039">B</text>
<text class="t pl" x="3286" y="1039">C</text>
<text class="t pl" x="761" y="2109">D</text>
<text class="t pl" x="2010.6" y="2109">E</text>
<text class="t pl" x="3315.6" y="2109">F</text>
<text class="t pl" x="761" y="3204">G</text>
<text class="t pl" x="2046" y="3206">H</text>
<text class="t pl" x="3219.5" y="3206">I</text>

<text class="t st" x="414.1" y="376">*</text><text class="t st" x="414.1" y="404">*</text>
<text class="t st" x="450.1" y="388">*</text><text class="t st" x="450.1" y="415.7">*</text>
<text class="t st" x="486.2" y="354">*</text><text class="t st" x="486.2" y="382">*</text>
<text class="t st" x="522.2" y="354">*</text><text class="t st" x="522.2" y="382">*</text>

<text class="t st" x="1645" y="248">*</text><text class="t st" x="1645" y="273.6">*</text>
<text class="t st" x="1681.4" y="241">*</text><text class="t st" x="1681.4" y="269">*</text>
<text class="t st" x="1717.7" y="225.6">*</text><text class="t st" x="1717.7" y="253">*</text>
<text class="t st" x="1754.1" y="234">*</text><text class="t st" x="1754.1" y="263">*</text>
<text class="t st" x="1826.9" y="244">*</text>

<text class="t st" x="2972.6" y="342">*</text><text class="t st" x="2972.6" y="369.6">*</text>
<text class="t st" x="3081.8" y="343.6">*</text>
<text class="t st" x="3154.7" y="343.6">*</text>

<text class="t st" x="442" y="1493">*</text>
<text class="t st" x="478.3" y="1443.4">*</text><text class="t st" x="478.3" y="1469.4">*</text>
<text class="t st" x="587.5" y="1462.6">*</text>
<text class="t st" x="623.9" y="1469.4">*</text>
<text class="t st" x="733" y="1443.4">*</text>

<text class="t st" x="1632.4" y="1311.7">*</text>
<text class="t st" x="1668.5" y="1287">*</text><text class="t st" x="1668.5" y="1314.4">*</text>
<text class="t st" x="1704.6" y="1287">*</text><text class="t st" x="1704.6" y="1313">*</text>
<text class="t st" x="1776.8" y="1304.8">*</text>
<text class="t st" x="1812.9" y="1292.5">*</text><text class="t st" x="1812.9" y="1318.5">*</text>
<text class="t st" x="1849" y="1304.8">*</text>
<text class="t st" x="1957.3" y="1292.5">*</text><text class="t st" x="1957.3" y="1318.5">*</text>
<text class="t st" x="1993.4" y="1304.8">*</text>

<text class="t st" x="2857" y="1422.8">*</text><text class="t st" x="2857" y="1450.2">*</text>
<text class="t st" x="2889.4" y="1441.3">*</text>

<text class="t st" x="446.4" y="2528.6">*</text>
<text class="t st" x="519.5" y="2528.6">*</text>
<text class="t st" x="592.7" y="2461.4">*</text><text class="t st" x="592.7" y="2488.1">*</text>
<text class="t st" x="629.2" y="2551.6">*</text>
<text class="t st" x="665.8" y="2491.7">*</text><text class="t st" x="665.8" y="2520.6">*</text>
<text class="t st" x="702.3" y="2502.6">*</text>

<text class="t st" x="1606.2" y="2366.1">*</text>
<text class="t st" x="1642.6" y="2340.9">*</text><text class="t st" x="1642.6" y="2367.6">*</text>
<text class="t st" x="1679" y="2339.4">*</text><text class="t st" x="1679" y="2366.1">*</text>
<text class="t st" x="1715.3" y="2395">*</text>
<text class="t st" x="1751.7" y="2340.9">*</text><text class="t st" x="1751.7" y="2367.6">*</text>
<text class="t st" x="1788.1" y="2379.9">*</text>
<text class="t st" x="1824.5" y="2339.4">*</text><text class="t st" x="1824.5" y="2366.1">*</text>
<text class="t st" x="1860.9" y="2335.1">*</text><text class="t st" x="1860.9" y="2362.5">*</text>
<text class="t st" x="1897.2" y="2346.7">*</text><text class="t st" x="1897.2" y="2373.4">*</text>
<text class="t st" x="1933.6" y="2339.4">*</text><text class="t st" x="1933.6" y="2366.1">*</text>
</g>
</svg>
</body></html>
